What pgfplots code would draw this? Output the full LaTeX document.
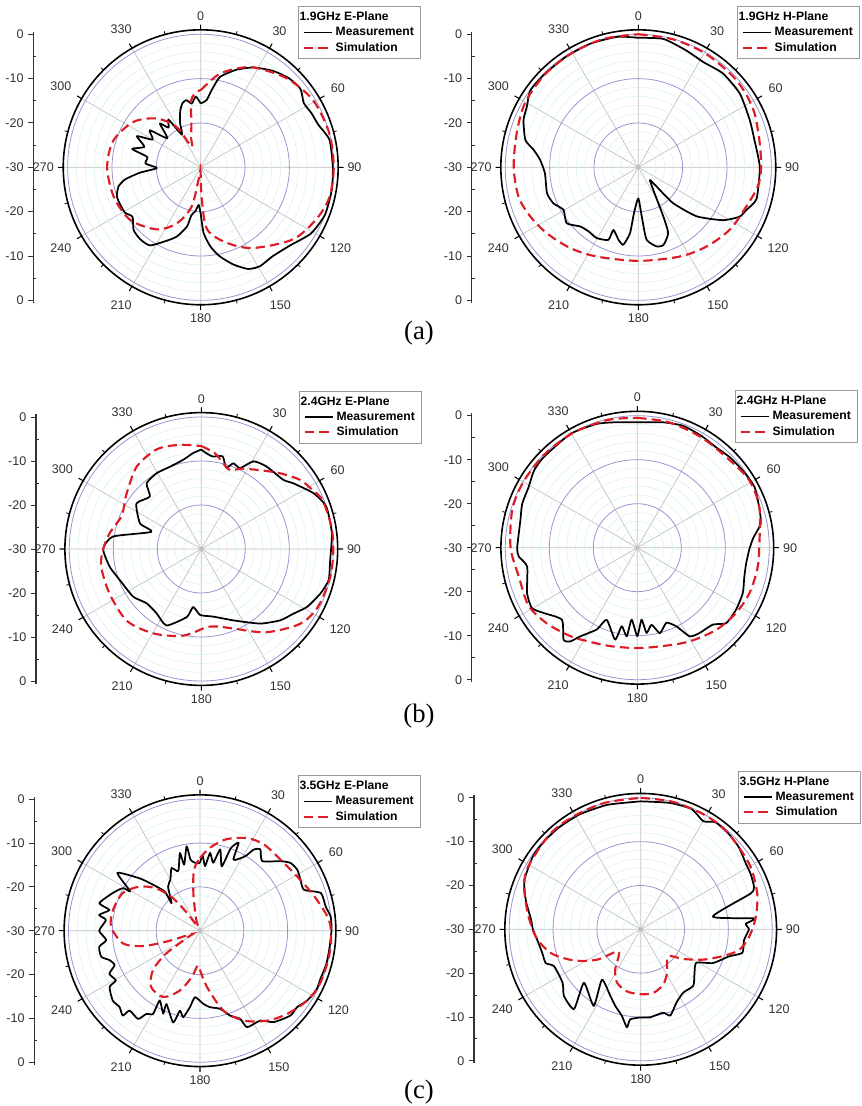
\documentclass[border=0pt]{standalone}
\usepackage{fontspec}
\setmainfont{Liberation Sans}
\newfontfamily\capfont{Liberation Serif}
\usepackage{pgfplots}
\usepgfplotslibrary{polar}
\usepackage{pgfplotstable}
\pgfplotsset{compat=1.18}

\definecolor{simred}{RGB}{222,28,38}
\definecolor{gridgray}{RGB}{190,190,190}
\definecolor{gridlav}{RGB}{150,150,210}
\definecolor{gridcyan}{RGB}{214,240,240}
\definecolor{labgray}{RGB}{50,50,50}
\def\pxu{0.75pt}
\newcommand{\ticklab}{\fontsize{9.4}{11}\selectfont}
\newcommand{\legfont}{\bfseries\fontsize{9.1}{11}\selectfont}

% ---------- 1.9 GHz E-plane ----------
\pgfplotstableread[header=false]{
0 -15.6
5 -14.8
8 -12.5
12 -9.2
20 -6.6
28 -4.5
37 -2.8
45 -1.7
52 -1.4
58 -2.6
64 -2.2
70 -1.8
78 -0.3
90 -0.2
100 0
111 0
121 -1.0
131 -3.2
141 -4.2
149 -4.0
155 -4.7
161.5 -6.9
168 -9.5
173 -12.0
177.5 -15.2
180 -19.5
183 -21.5
187 -20.0
191 -19.0
193 -16.3
199 -13.5
205 -11.7
213 -9.0
220 -8.8
227 -9.3
234 -11.0
239 -10.1
245 -10.0
251 -10.0
257 -11.0
261 -12.8
265 -16.3
269 -20.1
274 -17.5
281 -17.7
285 -14.0
290 -16.5
296 -14.0
300 -17.5
306 -15.8
311 -20.0
317 -16.5
321 -18.5
326 -17.0
330 -21.5
335 -19.0
340 -16.5
344 -15.0
348 -14.5
352 -15.5
356 -14.0
360 -15.6
}\aem
\pgfplotstableread[header=false]{
0 -12.6
10 -9.0
18 -6.8
28 -4.5
44 -2.1
59 -0.5
75 0
90 0
103 -0.2
114 -1.4
128 -3.6
147 -8.3
161 -12.0
174 -15.9
178 -22.7
182 -29
186 -28.5
190 -27.1
193 -20.9
203 -16.3
215 -12.9
233 -10.2
251 -9.3
270 -8.9
287 -9.4
304 -11.7
318 -15.2
329 -19.4
336 -24.9
342 -23
348 -19.9
352 -14.7
357 -13.0
360 -12.6
}\aes
% ---------- 1.9 GHz H-plane ----------
\pgfplotstableread[header=false]{
0 -0.8
11 -0.5
22 -1.5
32 -2.1
42 -1.5
54 -1.7
67 -2.7
77 -3.1
90 -2.6
105 -2.4
111.5 -3.8
116 -4.6
122 -7.5
130 -12.8
135.8 -18.7
136.5 -24.0
137.4 -26.1
146.5 -23.9
153 -17.6
155.6 -13.7
162 -11.6
167 -11.7
173.5 -13.6
176 -18.9
180 -23.0
185.4 -19.6
187.2 -15.0
191 -12.2
195.4 -13.1
201.7 -14.8
202.4 -12.3
210.4 -11.5
217.9 -11.7
224.5 -11.3
232 -9.5
240.4 -10.6
247 -9.2
254.2 -8.6
266.3 -8.9
274.3 -7.8
279.4 -6.1
283.6 -3.8
292.4 -2.0
298.5 -1.4
305.5 -0.1
315 -0.2
327 -0.2
339 -0.1
351 -0.2
360 -0.8
}\ahm
\pgfplotstableread[header=false]{
0 0
15 -0.1
30 -0.2
45 -0.4
55 -0.6
65 -1.1
77 -2.0
90 -2.3
99 -2.7
110 -4.1
124 -5.0
139 -6.4
155 -7.8
180 -8.9
205 -7.8
220 -6.2
234 -4.6
245 -3.3
256 -2.2
270 -1.9
286 -1.5
300 -0.6
315 -0.3
330 -0.2
345 0
360 0
}\ahs
% ---------- 2.4 GHz E-plane ----------
\pgfplotstableread[header=false]{
0 -7.4
3 -8.2
7 -8.8
13 -8.4
17 -10.7
20.5 -9.2
25.6 -9.6
30.8 -6.8
38.4 -6.1
49.9 -5.6
54.5 -4.3
63.6 -1.5
71.3 0
83 -0.1
95 -0.6
103.7 -0.2
110.5 -1.1
118.7 -2.6
125 -4.4
132 -5.8
141.7 -8.4
155.7 -12.2
170 -14.4
181 -15.0
188 -16.7
192 -14.2
204.5 -10.9
214.8 -12.2
225.2 -12.5
235 -11.1
249 -10.2
259 -8.8
270 -7.7
278 -9.7
289 -18.0
292.7 -14.9
305 -12.0
315.5 -13.3
320.2 -10.6
329.4 -10.0
339 -10.0
348.6 -9.3
355.2 -8.1
360 -7.4
}\bem
\pgfplotstableread[header=false]{
0 -6.6
8 -8.0
14 -9.8
20 -10.9
27 -9.5
37 -7.6
46 -5.2
55 -2.6
62 -1.4
68 -0.3
80 0
90 0
102 0
116 -0.4
127 -1.8
142 -6.0
158 -10.5
168 -12.0
176 -12.2
185 -11.0
194 -9.6
210 -7.9
226 -6.5
244 -6.8
260 -6.9
270 -7.7
280 -8.9
292 -10.4
300 -9.8
307 -8.8
322 -6.2
336 -5.2
348 -5.8
360 -6.6
}\bes
% ---------- 2.4 GHz H-plane ----------
\pgfplotstableread[header=false]{
0 -1.5
11.7 -0.9
20.6 -0.4
29.7 -0.7
38.1 -1.0
45.5 -0.6
53.8 -0.3
62.6 0
71.5 -0.8
78.9 -1.4
85 -3.5
90.5 -4.5
98.2 -5.0
105.1 -4.8
113.3 -3.9
122.1 -3.5
130.3 -3.5
135.5 -5.5
143.8 -6.0
149.4 -6.6
153.5 -10.0
158.8 -11.7
165.2 -9.9
169.5 -12.2
173.8 -10.5
176.6 -13.6
180 -9.9
184.5 -13.6
186.8 -9.7
191.2 -11.8
193.6 -8.5
203 -12.2
206.3 -9.3
212.8 -6.0
215.6 -3.8
218.7 -3.2
226.3 -6.3
235 -4.1
240.1 -2.4
247.6 -2.9
260.3 -4.6
265.7 -3.0
270 -2.7
283.3 -2.7
290.9 -2.0
299.2 -1.7
306.8 -0.7
314 -0.4
329.5 0
341.9 -0.4
350.7 -1.1
360 -1.5
}\bhm
\pgfplotstableread[header=false]{
0 -0.5
14 -0.6
30 -1.0
46 -1.1
59 -0.3
72 -0.8
90 -2.3
100 -2.3
112 -2.5
123.5 -3.1
136 -4.1
150.7 -5.6
165.3 -6.9
180 -7.2
195.4 -6.8
208.3 -5.9
217 -4.8
230 -3.2
242 -2.0
256 -2.3
270 -1.2
287 -0.3
300 -0.1
315 -0.1
331 -0.1
347 -0.2
360 -0.5
}\bhs
% ---------- 3.5 GHz E-plane ----------
\pgfplotstableread[header=false]{
0 -14.5
2 -12.8
4.5 -15.2
7.4 -12.1
11 -14.2
14 -10.9
18.7 -14.5
20.5 -9.9
23.7 -8.1
25.3 -12.1
31.3 -10.1
33.5 -7.8
36.6 -6.9
41.8 -8.7
49.2 -5.7
53.2 -4.2
57.9 -3.8
63.1 -4.3
68.5 -4.5
72.7 -1.1
79.1 -0.8
84 0
90 0
98.5 -0.2
105 -0.2
112 -0.4
117 -0.2
123 -0.8
128.2 -1.8
133.1 -1.7
141.1 -3.2
146.1 -5.3
154 -5.5
155.5 -7.9
160.4 -9.4
165.6 -11.6
172.5 -12.4
177.4 -13.3
184.3 -14.8
187.5 -12.4
191 -9.9
194.1 -11.2
196.3 -8.2
204.6 -11.6
203.9 -9.3
210 -11.6
209.4 -8.2
212.8 -7.4
215.1 -5.4
221.4 -5.7
222.3 -3.8
226.5 -4.7
231.3 -4.5
238.1 -5.7
239.4 -7.7
244.6 -7.1
248 -9.0
252 -8.3
255.2 -6.7
260.9 -6.7
264.3 -8.5
270 -7.0
276.5 -8.4
278.9 -6.7
282.9 -8.8
285.3 -6.2
293.3 -8.3
298.9 -9.9
299.5 -11.7
305 -7.0
311 -11.8
314.4 -15.0
318 -18.0
314 -21.0
324 -17.6
330 -16.5
335.6 -14.3
340 -15.5
345.5 -11.7
346.5 -14.5
351 -10.5
352.5 -13.7
357 -14.6
360 -14.5
}\cem
\pgfplotstableread[header=false]{
0 -13.4
7 -10.9
16 -8.3
27 -6.3
36.5 -5.5
48.5 -5.5
61 -4.6
73 -2.8
85 -0.5
94 0
103 0
114 -0.1
123 -0.8
133.6 -2.5
143.3 -4.4
154 -7.2
163.6 -11.0
173 -17.1
180 -21.0
184 -22.0
190 -19.3
198.6 -15.6
209 -12.7
221 -13.0
230 -16.0
236 -20.7
242 -27.0
248 -28.0
252 -22.0
255 -16.5
260.6 -12.2
272.6 -9.7
283.4 -9.6
296 -10.4
306 -12.9
314 -16.1
320 -20.1
324 -25.0
332 -29.0
342 -27.0
350 -21.3
354.4 -16.0
360 -13.4
}\ces
% ---------- 3.5 GHz H-plane ----------
\pgfplotstableread[header=false]{
0 -0.8
13 -0.4
23 -0.2
30 -1.5
35 -0.2
43 -0.4
50 -0.8
58 -1.7
63 -1.9
69.5 -2.4
72 -3.7
80 -13.3
84.5 -4.0
87 -6.0
90 -5.3
96 -6.3
103 -6.2
107 -8.9
115 -11.8
121 -15.2
129 -14.2
137 -12.4
146 -12.6
154 -11.4
161 -9.2
165 -10.3
174 -9.8
180 -9.9
186.7 -9.3
188 -7.4
192.3 -9.8
198.4 -11.6
204.5 -13.3
217.6 -15.5
211.5 -9.5
226.7 -12.2
219.9 -6.3
229 -6.8
235.6 -8.4
247 -8.5
250.4 -7.0
256.4 -6.9
264 -6.3
270 -5.4
275 -4.9
284 -3.0
292.8 -1.2
304 -0.3
312 -0.2
321 -0.2
332 -0.3
345 -0.6
360 -0.8
}\chm
\pgfplotstableread[header=false]{
0 0
14 0
28 -0.1
39 -0.2
50 -0.8
61 -1.2
73 -2.2
84 -3.6
94 -5.2
102 -7.1
108 -10.3
116 -14.2
125 -18.2
134.7 -21.2
148.8 -18.4
157.8 -16.4
168.8 -15.2
180 -15.2
192.7 -15.5
204 -16.7
212.3 -19.1
225 -22.8
235.1 -17.9
245 -13.2
255.2 -8.8
266 -6.0
278 -4.0
290 -1.7
299 -0.6
316 0
329 0
344 0
360 0
}\chs

\pgfplotsset{
  mypolar/.style={
    scale only axis, width=#1, height=#1,
    xmin=0, xmax=360, ymin=0, ymax=31,
    xtick={0,30,...,330},
    xticklabels={90,60,30,0,330,300,270,240,210,180,150,120},
    minor x tick num=1,
    ytick={10,20,30},
    minor ytick={2,4,6,8,12,14,16,18,22,24,26,28},
    yticklabels={},
    xmajorgrids, ymajorgrids, yminorgrids, xminorgrids=false,
    major x grid style={draw=gridgray, line width=0.5pt},
    major y grid style={draw=gridlav, line width=0.6pt},
    minor y grid style={draw=gridcyan, line width=0.4pt},
    axis line style={line width=1.2pt, black},
    y axis line style={draw=none},
    tick align=inside,
    major tick length=4pt, minor tick length=2.5pt,
    major y tick style={draw=none}, minor y tick style={draw=none},
    major x tick style={line width=0.8pt, black},
    minor x tick style={line width=0.6pt, black},
    xticklabel style={font=\ticklab, text=labgray, inner sep=3.5pt, outer sep=3.5pt},
    legend cell align=left,
    legend style={draw=gray!80, line width=0.7pt, fill=white, font=\legfont,
      inner xsep=3pt, inner ysep=2pt, row sep=-0.5pt, anchor=north east},
    legend image code/.code={\draw[##1] (0pt,0pt) -- (21pt,0pt);},
  },
  leftax/.style={
    scale only axis, width=1pt, height=#1,
    axis y line=left, axis x line=none,
    ymin=-30.6, ymax=30.6, xmin=0, xmax=1,
    ytick={-30,-20,...,30}, yticklabels={0,-10,-20,-30,-20,-10,0},
    minor y tick num=1,
    tick align=outside,
    major tick length=3.75pt, minor tick length=2.2pt,
    axis line style={-, line width=0.8pt, black!80},
    major y tick style={line width=0.7pt, black!80},
    minor y tick style={line width=0.6pt, black!80, xshift=2.2pt},
    yticklabel style={font=\ticklab, text=labgray},
  },
  meas/.style={black, line width=1.3pt, line join=round, smooth, tension=0.35},
  sim/.style={simred, line width=1.6pt, dash pattern=on 7pt off 3.8pt, smooth, tension=0.5},
}

\begin{document}
\begin{tikzpicture}
\path[use as bounding box] (0,0) rectangle (861*\pxu,-1106*\pxu);

% ===== (a) left =====
\begin{axis}[leftax=203.5pt, at={(33.3*\pxu,-167.3*\pxu)}, anchor=west]
\addplot[draw=none] coordinates {(0,0)};
\end{axis}
\begin{polaraxis}[mypolar=206.2pt, at={(200.7*\pxu,-167.3*\pxu)}, anchor=center,
  legend style={at={(1.3015,1.0869)}}]
\addlegendimage{empty legend}\addlegendentry{\hspace*{-27pt}1.9GHz E-Plane}
\addplot[meas] table[x expr={90-\thisrowno{0}}, y expr={\thisrowno{1}+30}] {\aem};
\addlegendentry{Measurement}
\addplot[sim] table[x expr={90-\thisrowno{0}}, y expr={\thisrowno{1}+30}] {\aes};
\addlegendentry{Simulation}
\end{polaraxis}

% ===== (a) right =====
\begin{axis}[leftax=203.5pt, at={(471.7*\pxu,-167.3*\pxu)}, anchor=west]
\addplot[draw=none] coordinates {(0,0)};
\end{axis}
\begin{polaraxis}[mypolar=206.2pt, at={(638.3*\pxu,-167.3*\pxu)}, anchor=center,
  legend style={at={(1.3066,1.0869)}}]
\addlegendimage{empty legend}\addlegendentry{\hspace*{-27pt}1.9GHz H-Plane}
\addplot[meas] table[x expr={90-\thisrowno{0}}, y expr={\thisrowno{1}+30}] {\ahm};
\addlegendentry{Measurement}
\addplot[sim] table[x expr={90-\thisrowno{0}}, y expr={\thisrowno{1}+30}] {\ahs};
\addlegendentry{Simulation}
\end{polaraxis}

% ===== (b) left =====
\begin{axis}[leftax=202pt, at={(36*\pxu,-549*\pxu)}, anchor=west]
\addplot[draw=none] coordinates {(0,0)};
\end{axis}
\begin{polaraxis}[mypolar=204.6pt, at={(201.3*\pxu,-549*\pxu)}, anchor=center,
  legend style={at={(1.309,1.0803)}}]
\addlegendimage{empty legend}\addlegendentry{\hspace*{-27pt}2.4GHz E-Plane}
\addplot[meas] table[x expr={90-\thisrowno{0}}, y expr={\thisrowno{1}+30}] {\bem};
\addlegendentry{Measurement}
\addplot[sim] table[x expr={90-\thisrowno{0}}, y expr={\thisrowno{1}+30}] {\bes};
\addlegendentry{Simulation}
\end{polaraxis}

% ===== (b) right =====
\begin{axis}[leftax=202pt, at={(471.7*\pxu,-547.7*\pxu)}, anchor=west]
\addplot[draw=none] coordinates {(0,0)};
\end{axis}
\begin{polaraxis}[mypolar=204.6pt, at={(637.3*\pxu,-547.7*\pxu)}, anchor=center,
  legend style={at={(1.309,1.078)}}]
\addlegendimage{empty legend}\addlegendentry{\hspace*{-27pt}2.4GHz H-Plane}
\addplot[meas] table[x expr={90-\thisrowno{0}}, y expr={\thisrowno{1}+30}] {\bhm};
\addlegendentry{Measurement}
\addplot[sim] table[x expr={90-\thisrowno{0}}, y expr={\thisrowno{1}+30}] {\bhs};
\addlegendentry{Simulation}
\end{polaraxis}

% ===== (c) left =====
\begin{axis}[leftax=201.2pt, at={(34.3*\pxu,-930.7*\pxu)}, anchor=west]
\addplot[draw=none] coordinates {(0,0)};
\end{axis}
\begin{polaraxis}[mypolar=203.8pt, at={(200*\pxu,-930.7*\pxu)}, anchor=center,
  legend style={at={(1.313,1.073)}}]
\addlegendimage{empty legend}\addlegendentry{\hspace*{-27pt}3.5GHz E-Plane}
\addplot[meas] table[x expr={90-\thisrowno{0}}, y expr={\thisrowno{1}+30}] {\cem};
\addlegendentry{Measurement}
\addplot[sim] table[x expr={90-\thisrowno{0}}, y expr={\thisrowno{1}+30}] {\ces};
\addlegendentry{Simulation}
\end{polaraxis}

% ===== (c) right =====
\begin{axis}[leftax=201.2pt, at={(474*\pxu,-929.3*\pxu)}, anchor=west]
\addplot[draw=none] coordinates {(0,0)};
\end{axis}
\begin{polaraxis}[mypolar=203.8pt, at={(640.7*\pxu,-929.3*\pxu)}, anchor=center,
  legend style={at={(1.3105,1.0835)}}]
\addlegendimage{empty legend}\addlegendentry{\hspace*{-27pt}3.5GHz H-Plane}
\addplot[meas] table[x expr={90-\thisrowno{0}}, y expr={\thisrowno{1}+30}] {\chm};
\addlegendentry{Measurement}
\addplot[sim] table[x expr={90-\thisrowno{0}}, y expr={\thisrowno{1}+30}] {\chs};
\addlegendentry{Simulation}
\end{polaraxis}

\node[font=\capfont\fontsize{20}{22}\selectfont] at (419*\pxu,-333*\pxu) {(a)};
\node[font=\capfont\fontsize{20}{22}\selectfont] at (419*\pxu,-716*\pxu) {(b)};
\node[font=\capfont\fontsize{20}{22}\selectfont] at (419*\pxu,-1092*\pxu) {(c)};
\end{tikzpicture}
\end{document}
